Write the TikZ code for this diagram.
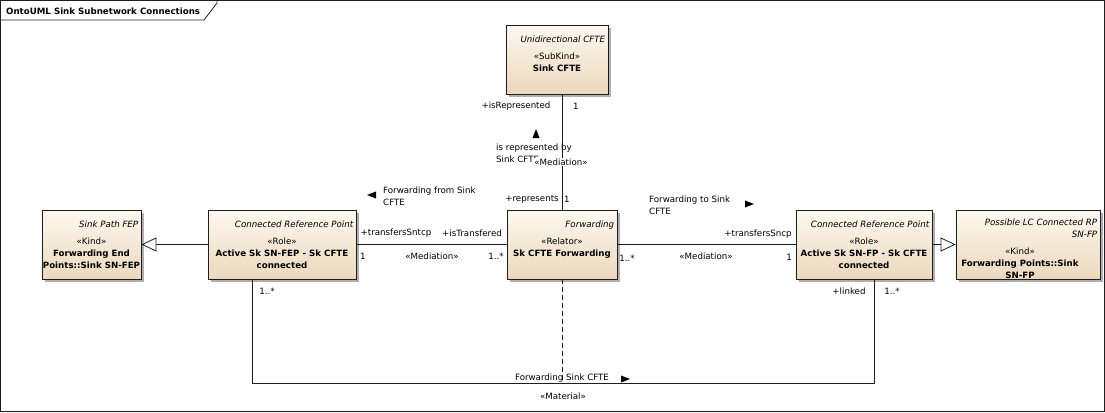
\documentclass[tikz,border=0pt]{standalone}
\usepackage{fontspec}
\setmainfont{DejaVu Sans}
\usetikzlibrary{arrows.meta,shadows,positioning}
\definecolor{EAtop}{RGB}{253,248,240}
\definecolor{EAbottom}{RGB}{236,216,188}
\definecolor{EAline}{RGB}{30,30,30}
\definecolor{EAshadow}{RGB}{175,175,175}
\newcommand{\umlfont}{\fontsize{8.7}{12}\selectfont}

\begin{document}
\begin{tikzpicture}[x=1bp, y=-1bp,
	classbox/.style={draw=EAline, line width=.8bp, top color=EAtop, bottom color=EAbottom, minimum height=69bp, inner sep=0,
		drop shadow={shadow xshift=3bp, shadow yshift=-3bp, fill=EAshadow, opacity=1}},
	tname/.style={below left=8bp and 2bp, font=\umlfont\itshape, align=right, execute at begin node=\strut},
	body/.style={below=5bp, font=\umlfont, align=center, execute at begin node=\strut},
	lbl/.style={font=\umlfont, align=left},
	assoc/.style={line width=.8bp, EAline},
	isa/.style={assoc, -{Triangle[open, length=15bp, width=14bp, fill=white]}},
	every node/.style={font=\umlfont, inner sep=1bp}
	]
	\useasboundingbox (0,0) rectangle (1105,412);
	\draw [assoc] (0.5,0.5) rectangle (1104.5,411.5);
	\draw [assoc] (0.5,20) -- (204,20) -- (217,3) -- (217,0.5);
	\node (title) at (5,11) [anchor=west, font=\umlfont\bfseries] {OntoUML Sink Subnetwork Connections};

	% classes
	\node (cfte) at (557,59.5) [classbox, minimum width=102bp] {};
	\node (cften) at (cfte.north east) [tname] {Unidirectional CFTE};
	\node at (cfte.north |- cften.south) [body] {«SubKind»\\\textbf{Sink CFTE}};

	\node (sinkfep) at (91.5,244.5) [classbox, minimum width=99bp] {};
	\node (sinkfepn) at (sinkfep.north east) [tname] {Sink Path FEP};
	\node at (sinkfep.north |- sinkfepn.south) [body] {«Kind»\\\textbf{Forwarding End}\\\textbf{Points::Sink SN-FEP}};

	\node (crpl) at (282,244.5) [classbox, minimum width=148bp] {};
	\node (crpln) at (crpl.north east) [tname] {Connected Reference Point};
	\node at (crpl.north |- crpln.south) [body] {«Role»\\\textbf{Active Sk SN-FEP - Sk CFTE}\\\textbf{connected}};

	\node (fwd) at (562,244.5) [classbox, minimum width=110bp] {};
	\node (fwdn) at (fwd.north east) [tname] {Forwarding};
	\node at (fwd.north |- fwdn.south) [body] {«Relator»\\\textbf{Sk CFTE Forwarding}};

	\node (crpr) at (864,244.5) [classbox, minimum width=136bp] {};
	\node (crprn) at (crpr.north east) [tname] {Connected Reference Point};
	\node at (crpr.north |- crprn.south) [body] {«Role»\\\textbf{Active Sk SN-FP - Sk CFTE}\\\textbf{connected}};

	\node (lcrp) at (1028,244.5) [classbox, minimum width=144bp] {};
	\node (lcrpn) at (lcrp.north east) [tname] {Possible LC Connected RP\\SN-FP\strut};
	\node at ([xshift=-8bp]lcrp.north |- lcrpn.south) [body] {«Kind»\\\textbf{Forwarding Points::Sink}\\\textbf{SN-FP}};

	% connectors
	\draw [isa] (crpl.west) -- (sinkfep.east);
	\draw [isa] (crpr.east) -- (lcrp.west);
	\draw [assoc] (crpl.east) -- (fwd.west);
	\draw [assoc] (fwd.east) -- (crpr.west);
	\draw [assoc] (fwd.north |- cfte.south) -- (fwd.north);
	\coordinate (matl) at (252,383);
	\coordinate (matr) at (874,383);
	\draw [assoc] (crpl.south -| matl) -- (matl) -- (matr) -- (crpr.south -| matr);
	\draw [assoc, dash pattern=on 5bp off 3bp] (fwd.south) -- (fwd.south |- matl);

	% top mediation
	\node (isrep) at (516,106) [lbl] {+isRepresented};
	\node (isrepm) at (576,106) [lbl] {1};
	\fill [shift={(536,134)}] (-3.5,4) -- (0,-5) -- (3.5,4) -- cycle;
	\node (isrepby) at (495,153) [lbl, anchor=west] {is represented by\\Sink CFTE};
	\node (medtop) at (561,162) [lbl, fill=white] {«Mediation»};
	\node (reps) at (532,199) [lbl] {+represents};
	\node (repsm) at (567,199) [lbl] {1};

	% left mediation
	\fill [shift={(372,195)}] (4,-3.5) -- (-5,0) -- (4,3.5) -- cycle;
	\node (fromsink) at (382,196) [lbl, anchor=west] {Forwarding from Sink\\CFTE};
	\node (sntcp) at (396,233) [lbl] {+transfersSntcp};
	\node (istr) at (472,233) [lbl] {+isTransfered};
	\node (sntcpm) at (363,256) [lbl] {1};
	\node (medl) at (432,256) [lbl] {«Mediation»};
	\node (istrm) at (496,256) [lbl] {1..*};

	% right mediation
	\node (tosink) at (648,205) [lbl, anchor=west] {Forwarding to Sink\\CFTE};
	\fill [shift={(749,204)}] (-4,-3.5) -- (5,0) -- (-4,3.5) -- cycle;
	\node (sncp) at (758,234) [lbl] {+transfersSncp};
	\node (fwdm) at (627,258) [lbl] {1..*};
	\node (medr) at (706,256) [lbl] {«Mediation»};
	\node (sncpm) at (789,257) [lbl] {1};

	% material
	\node (matlm) at (267,291) [lbl] {1..*};
	\node (linked) at (849,291) [lbl] {+linked};
	\node (matrm) at (892,291) [lbl] {1..*};
	\node (fsink) at (562,378) [lbl] {Forwarding Sink CFTE};
	\fill [shift={(625,379)}] (-4,-3.5) -- (5,0) -- (-4,3.5) -- cycle;
	\node (mat) at (563,396) [lbl] {«Material»};
\end{tikzpicture}
\end{document}
